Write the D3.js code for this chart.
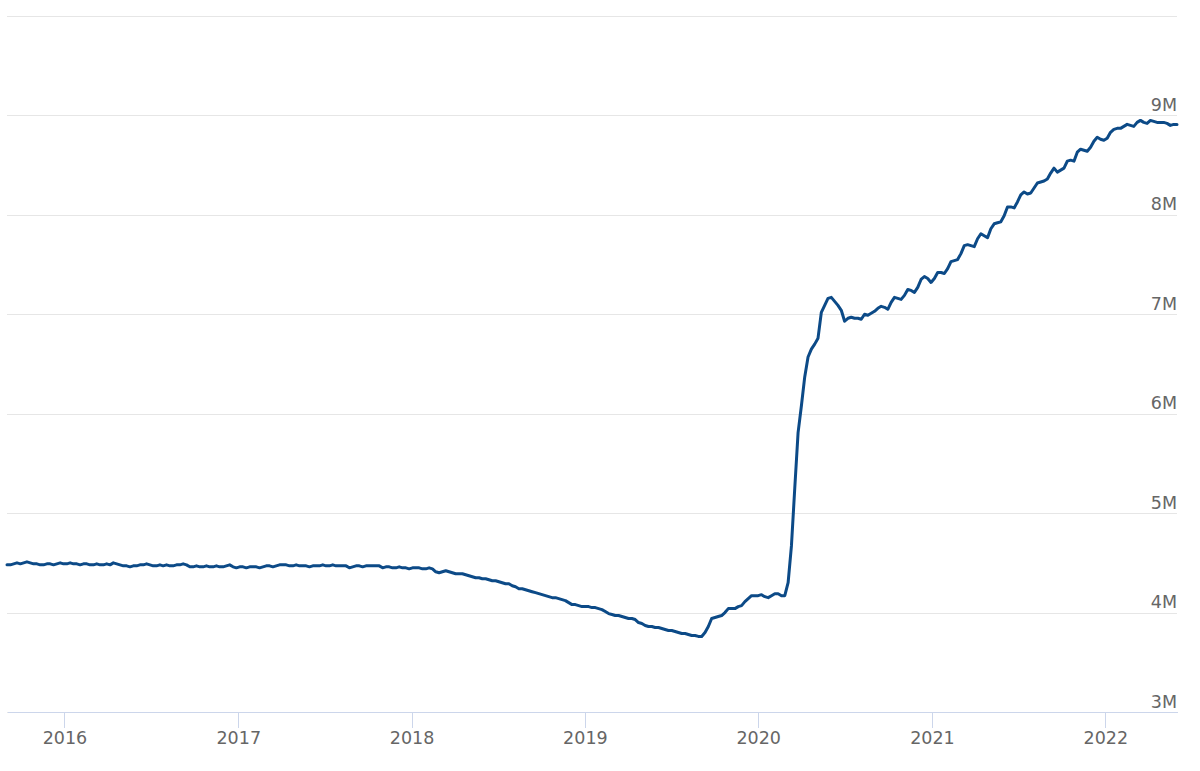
<!DOCTYPE html>
<html lang="en">
<head>
    <meta charset="UTF-8">
    <title>Weekly total assets</title>
    <script src="https://d3js.org/d3.v7.min.js"></script>
    <style>
        body {
            margin: 0;
            background: #fff;
            font-family: "DejaVu Sans", Arial, sans-serif;
        }
        svg {
            display: block;
            background: #fff;
        }
        .grid line {
            stroke: #e6e6e6;
            stroke-width: 1px;
            shape-rendering: crispEdges;
        }
        .x-axis path, .x-axis line {
            stroke: #ccd6eb;
            stroke-width: 1px;
            shape-rendering: crispEdges;
        }
        .axis text {
            fill: #666666;
            font-family: "DejaVu Sans", Arial, sans-serif;
            font-size: 17.5px;
        }
        .series {
            fill: none;
            stroke: #0c4a87;
            stroke-width: 3px;
            stroke-linejoin: round;
            stroke-linecap: round;
        }
    </style>
</head>
<body>
    <svg id="chart" width="1200" height="771"></svg>

    <script>
        // Weekly values (trillions, shown as "M"), first week = 2015-09-02
        const startDate = new Date(2015, 8, 2);

        const values2015 = [4.48, 4.48, 4.49, 4.50, 4.49, 4.50, 4.51, 4.50, 4.49, 4.49, 4.48, 4.48, 4.49, 4.49, 4.48, 4.49, 4.50, 4.49];
        const values2016 = [4.49, 4.50, 4.49, 4.49, 4.48, 4.49, 4.49, 4.48,
            4.48, 4.49, 4.48, 4.48, 4.49, 4.48, 4.50, 4.49,
            4.48, 4.47, 4.47, 4.46, 4.47, 4.47, 4.48, 4.48,
            4.49, 4.48, 4.47, 4.47, 4.48, 4.47, 4.48, 4.47,
            4.47, 4.48, 4.48, 4.49, 4.48, 4.46, 4.46, 4.47,
            4.46, 4.46, 4.47, 4.46, 4.46, 4.47, 4.46, 4.46,
            4.47, 4.48, 4.46, 4.45];
        const values2017 = [4.46, 4.46, 4.45, 4.46, 4.46, 4.46, 4.45, 4.46,
            4.47, 4.47, 4.46, 4.47, 4.48, 4.48, 4.48, 4.47,
            4.47, 4.48, 4.47, 4.47, 4.47, 4.46, 4.47, 4.47,
            4.47, 4.48, 4.47, 4.47, 4.48, 4.47, 4.47, 4.47,
            4.47, 4.45, 4.46, 4.47, 4.47, 4.46, 4.47, 4.47,
            4.47, 4.47, 4.47, 4.45, 4.46, 4.46, 4.45, 4.45,
            4.46, 4.45, 4.45, 4.44];
        const values2018 = [4.45, 4.45, 4.45, 4.44, 4.44, 4.45, 4.44, 4.41,
            4.40, 4.41, 4.42, 4.41, 4.40, 4.39, 4.39, 4.39, 4.38,
            4.37, 4.36, 4.35, 4.35, 4.34, 4.34, 4.33, 4.32, 4.32,
            4.31, 4.30, 4.29, 4.29, 4.27, 4.26, 4.24, 4.24,
            4.23, 4.22, 4.21, 4.20, 4.19, 4.18, 4.17, 4.16, 4.15,
            4.15, 4.14, 4.13, 4.12, 4.10, 4.08, 4.08, 4.07, 4.06];
        const values2019 = [4.06, 4.06, 4.05, 4.05, 4.04, 4.03, 4.01, 3.99,
            3.98, 3.97, 3.97, 3.96, 3.95, 3.94, 3.94, 3.93,
            3.90, 3.89, 3.87, 3.86, 3.86, 3.85, 3.85, 3.84,
            3.83, 3.82, 3.82, 3.81, 3.80, 3.79, 3.79, 3.78,
            3.77, 3.77, 3.76, 3.76, 3.80, 3.86, 3.94, 3.95,
            3.96, 3.97, 4.00, 4.04, 4.04, 4.04, 4.06, 4.07,
            4.11, 4.14, 4.17, 4.17];
        const values2020 = [4.17, 4.18, 4.16, 4.15, 4.17, 4.19, 4.19, 4.17, 4.17,
            4.30, 4.67, 5.25, 5.81, 6.08, 6.37, 6.57, 6.65, 6.70, 6.76,
            7.02, 7.09, 7.16, 7.17, 7.13, 7.09, 7.04, 6.93, 6.96, 6.97,
            6.96, 6.96, 6.95, 7.00, 6.99, 7.01, 7.03, 7.06, 7.08, 7.07,
            7.05, 7.12, 7.17, 7.16, 7.15, 7.19, 7.25, 7.24, 7.22, 7.27,
            7.35, 7.38, 7.36, 7.32];
        const values2021 = [7.36, 7.42, 7.42, 7.41, 7.46, 7.53, 7.54, 7.55,
            7.61, 7.69, 7.70, 7.69, 7.68, 7.76, 7.81, 7.79,
            7.77, 7.86, 7.91, 7.92, 7.93, 7.99, 8.08, 8.08,
            8.07, 8.13, 8.20, 8.23, 8.21, 8.22, 8.27, 8.32,
            8.33, 8.34, 8.36, 8.42, 8.47, 8.43, 8.45, 8.47,
            8.54, 8.55, 8.54, 8.63, 8.66, 8.65, 8.64, 8.68,
            8.74, 8.78, 8.76, 8.75];
        const values2022 = [8.77, 8.83, 8.86, 8.87, 8.87, 8.89, 8.91, 8.90,
            8.89, 8.93, 8.95, 8.93, 8.92, 8.95, 8.94, 8.93,
            8.93, 8.93, 8.92, 8.90, 8.91, 8.91];

        const yGridValues = [3, 4, 5, 6, 7, 8, 9, 10];
        const yLabelValues = [3, 4, 5, 6, 7, 8, 9];

        const allValues = [].concat(values2015, values2016, values2017, values2018,
            values2019, values2020, values2021, values2022);
        const data = allValues.map((v, i) => ({
            date: d3.timeDay.offset(startDate, 7 * i),
            value: v
        }));

        // Plot area
        const margin = {left: 7, right: 1177, top: 16, bottom: 712};

        const svg = d3.select("#chart");

        const x = d3.scaleTime()
            .domain(d3.extent(data, d => d.date))
            .range([margin.left, margin.right]);

        const y = d3.scaleLinear()
            .domain([3, 10])
            .range([margin.bottom, margin.top]);

        // Horizontal gridlines
        svg.append("g")
            .attr("class", "grid")
            .attr("transform", `translate(${margin.left},0)`)
            .call(d3.axisRight(y).tickValues(yGridValues).tickSize(margin.right - margin.left).tickFormat(""))
            .call(g => g.select(".domain").remove());

        // Y labels, right aligned above each gridline
        svg.append("g")
            .attr("class", "axis y-axis")
            .attr("transform", `translate(${margin.right},0)`)
            .call(d3.axisLeft(y).tickValues(yLabelValues).tickSize(0).tickPadding(0).tickFormat(d => d + "M"))
            .call(g => g.select(".domain").remove())
            .call(g => g.selectAll("text").attr("dy", 0).attr("y", -5));

        // X axis
        svg.append("g")
            .attr("class", "axis x-axis")
            .attr("transform", `translate(0,${margin.bottom})`)
            .call(d3.axisBottom(x).ticks(d3.timeYear).tickFormat(d3.timeFormat("%Y")).tickSize(16).tickSizeOuter(0))
            .call(g => g.selectAll("text").attr("dy", 0).attr("y", 32));

        // Series line
        const line = d3.line()
            .x(d => x(d.date))
            .y(d => y(d.value));

        svg.append("path")
            .datum(data)
            .attr("class", "series")
            .attr("d", line);
    </script>
</body>
</html>
